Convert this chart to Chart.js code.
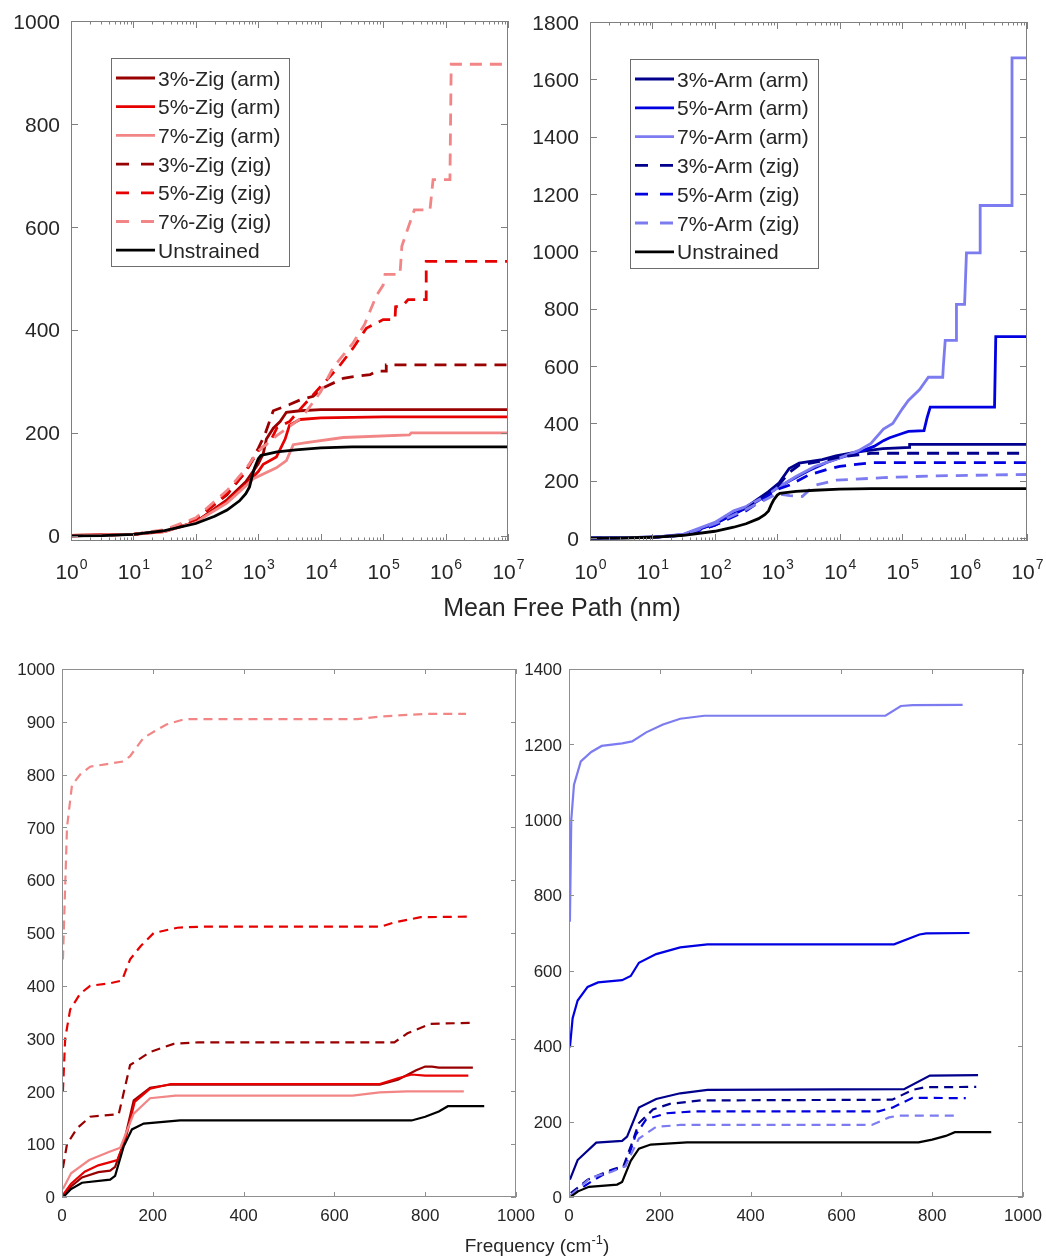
<!DOCTYPE html>
<html>
<head>
<meta charset="utf-8">
<script src="https://cdn.jsdelivr.net/npm/chart.js@4.4.1/dist/chart.umd.min.js"></script>
<style>
    body { margin: 0; background: #fff; width: 1046px; height: 1257px; position: relative; overflow: hidden; }
    canvas { position: absolute; }
    .axis-title {
        position: absolute; text-align: center; color: #262626; white-space: nowrap;
        font-family: "Liberation Sans", Arial, Helvetica, sans-serif;
    }
    .axis-title sup { font-size: 0.68em; vertical-align: 0.6em; line-height: 0; }
</style>
</head>
<body>
<canvas id="mfpZig"></canvas>
<canvas id="mfpArm"></canvas>
<canvas id="freqZig"></canvas>
<canvas id="freqArm"></canvas>
<div class="axis-title" style="left:362px; top:593px; width:400px; font-size:25px;">Mean Free Path (nm)</div>
<div class="axis-title" style="left:337px; top:1235px; width:400px; font-size:19px;">Frequency (cm<sup>-1</sup>)</div>

<script>
// ---- Accumulated value vs mean free path, x in nm: [mfp, value] ----
const mfpUnstrained = [[1, 0], [3.16, 0.5], [10, 3], [31.6, 10], [100, 24], [200, 38], [316, 50], [501, 68], [631, 82], [724, 95], [794, 115], [870, 132], [1000, 150], [1100, 156], [1259, 158], [2000, 163], [3981, 167], [10000, 171], [31620, 173], [1e7, 173]];

const mfpZig3Arm = [[1, 1], [10, 3], [31.6, 9], [100, 27], [316, 70], [631, 105], [1000, 140], [1202, 160], [1349, 188], [1738, 209], [2239, 222], [2818, 240], [4677, 243], [10000, 245], [1e7, 245]];
const mfpZig5Arm = [[1, 1], [10, 3], [31.6, 8], [100, 27], [316, 68], [631, 100], [1000, 125], [1202, 139], [1950, 153], [2692, 188], [3162, 215], [4677, 226], [10000, 229], [1e5, 231], [1e7, 231]];
const mfpZig7Arm = [[1, 1], [10, 3], [31.6, 8], [100, 27], [316, 64], [631, 97], [832, 111], [1950, 132], [2818, 146], [3631, 177], [5888, 181], [22900, 191], [263000, 196], [281800, 200], [1e7, 200]];
const mfpZig3Zig = [[1, 0], [10, 3], [31.6, 10], [100, 32], [316, 80], [631, 125], [1000, 170], [1259, 195], [1738, 243], [3162, 255], [4677, 264], [7586, 271], [10000, 285], [22900, 306], [31620, 309], [61660, 313], [79430, 320], [112200, 320], [112200, 332], [1e7, 332]];
const mfpZig5Zig = [[1, 0], [10, 3], [31.6, 10], [100, 32], [316, 82], [631, 125], [1000, 165], [1585, 185], [1995, 210], [3162, 222], [5012, 250], [10000, 290], [19950, 330], [33110, 365], [53700, 403], [1e5, 420], [154900, 420], [158500, 445], [208900, 448], [251200, 459], [489800, 459], [489800, 533], [1e7, 533]];
const mfpZig7Zig = [[1, 0], [10, 3], [31.6, 12], [100, 35], [316, 88], [631, 130], [1000, 165], [1995, 195], [5012, 230], [10000, 280], [15850, 327], [33110, 375], [50120, 410], [77620, 466], [1e5, 487], [107200, 508], [186200, 508], [199500, 563], [316200, 633], [562300, 633], [631000, 692], [1175000, 692], [1230000, 916], [1e7, 916]];

const mfpArm3Arm = [[1, 0], [10, 3], [31.6, 12], [100, 50], [309, 106], [724, 162], [1072, 193], [1549, 243], [2239, 262], [5248, 274], [8710, 287], [18200, 300], [48980, 312], [131800, 316], [131800, 327], [1e7, 327]];
const mfpArm5Arm = [[1, 0], [10, 3], [31.6, 12], [100, 50], [316, 105], [631, 145], [1000, 175], [1585, 200], [3162, 235], [6310, 265], [10000, 280], [19950, 300], [35480, 320], [50120, 340], [63100, 350], [1e5, 365], [125900, 372], [223900, 375], [251200, 420], [281800, 457], [3020000, 457], [3162000, 703], [1e7, 703]];
const mfpArm7Arm = [[1, 0], [10, 3], [31.6, 14], [100, 55], [200, 95], [316, 110], [631, 145], [1000, 175], [1995, 215], [3981, 250], [10000, 280], [19950, 305], [31620, 330], [50120, 380], [70790, 400], [1e5, 450], [125900, 480], [190500, 518], [263000, 561], [446700, 561], [457000, 600], [489800, 690], [741300, 690], [741300, 815], [1e6, 815], [1072000, 995], [1778000, 995], [1778000, 1160], [5754000, 1160], [5754000, 1675], [1e7, 1675]];
const mfpArm3Zig = [[1, 0], [10, 3], [31.6, 10], [100, 45], [316, 100], [1000, 180], [1585, 230], [2239, 255], [5012, 268], [10000, 283], [19950, 290], [31620, 296], [1e7, 296]];
const mfpArm5Zig = [[1, 0], [10, 3], [31.6, 10], [100, 45], [316, 95], [1000, 170], [1585, 185], [3162, 220], [6310, 240], [10000, 250], [19950, 258], [31620, 263], [1e7, 263]];
const mfpArm7Zig = [[1, 0], [10, 3], [31.6, 12], [100, 50], [316, 100], [1000, 155], [1585, 148], [2512, 145], [3162, 165], [3802, 183], [8913, 202], [50120, 211], [316200, 217], [1e7, 222]];

// ---- Accumulated value vs frequency, x in cm^-1: [freq, value] ----
const freqUnstrained = [[4, 1], [20, 15], [44, 27], [106, 33], [117, 40], [136, 96], [154, 128], [180, 139], [260, 145], [770, 145], [800, 152], [830, 162], [850, 172], [930, 172]];

const freqZig3Arm = [[3, 3], [20, 20], [44, 37], [80, 47], [106, 50], [117, 57], [136, 102], [158, 183], [194, 207], [240, 213], [700, 213], [740, 222], [780, 240], [800, 247], [815, 247], [830, 245], [905, 245]];
const freqZig5Arm = [[3, 5], [20, 25], [50, 48], [80, 60], [106, 66], [122, 70], [140, 110], [160, 180], [194, 205], [240, 214], [700, 214], [740, 225], [770, 232], [800, 230], [895, 230]];
const freqZig7Arm = [[2, 15], [20, 45], [60, 70], [106, 86], [128, 93], [158, 158], [194, 187], [250, 192], [640, 192], [700, 198], [760, 200], [885, 200]];
const freqZig3Zig = [[2, 55], [11, 100], [33, 130], [62, 152], [125, 157], [150, 250], [195, 275], [246, 290], [300, 293], [732, 293], [761, 310], [812, 328], [908, 330]];
const freqZig5Zig = [[2, 200], [7, 300], [18, 355], [40, 385], [62, 400], [107, 405], [132, 410], [150, 450], [173, 475], [202, 500], [254, 510], [305, 512], [702, 512], [732, 520], [790, 530], [900, 531]];
const freqZig7Zig = [[2, 450], [11, 700], [22, 780], [40, 800], [62, 815], [99, 820], [136, 825], [150, 835], [180, 870], [230, 895], [270, 905], [650, 905], [700, 910], [800, 915], [890, 915]];

const freqArm3Arm = [[2, 46], [19, 98], [60, 144], [117, 149], [128, 160], [154, 237], [192, 260], [245, 275], [305, 284], [738, 286], [795, 322], [901, 323]];
const freqArm5Arm = [[2, 397], [8, 474], [19, 521], [41, 557], [64, 569], [117, 575], [136, 586], [154, 621], [192, 644], [245, 662], [305, 670], [716, 670], [772, 696], [787, 699], [882, 700]];
const freqArm7Arm = [[2, 730], [5, 1000], [11, 1093], [26, 1155], [49, 1180], [72, 1196], [117, 1203], [139, 1208], [170, 1232], [207, 1253], [245, 1268], [298, 1276], [697, 1276], [731, 1302], [757, 1304], [867, 1305]];
const freqArm3Zig = [[4, 10], [41, 46], [94, 72], [120, 82], [139, 144], [154, 196], [185, 232], [222, 247], [290, 256], [712, 258], [757, 284], [784, 291], [897, 292]];
const freqArm5Zig = [[4, 5], [49, 41], [87, 67], [124, 82], [147, 165], [170, 206], [215, 222], [275, 227], [682, 227], [712, 237], [757, 263], [874, 262]];
const freqArm7Zig = [[4, 5], [49, 52], [94, 67], [124, 82], [154, 155], [192, 186], [245, 191], [667, 191], [705, 211], [727, 216], [855, 216]];

// ---- Axes and legends ----
const mfpXTicks = [1, 10, 100, 1e3, 1e4, 1e5, 1e6, 1e7];
const mfpZigYTicks = [0, 200, 400, 600, 800, 1000];
const mfpArmYTicks = [0, 200, 400, 600, 800, 1000, 1200, 1400, 1600, 1800];
const freqXTicks = [0, 200, 400, 600, 800, 1000];
const freqZigYTicks = [0, 100, 200, 300, 400, 500, 600, 700, 800, 900, 1000];
const freqArmYTicks = [0, 200, 400, 600, 800, 1000, 1200, 1400];

const zigLabels = ['3%-Zig (arm)', '5%-Zig (arm)', '7%-Zig (arm)', '3%-Zig (zig)', '5%-Zig (zig)', '7%-Zig (zig)', 'Unstrained'];
const armLabels = ['3%-Arm (arm)', '5%-Arm (arm)', '7%-Arm (arm)', '3%-Arm (zig)', '5%-Arm (zig)', '7%-Arm (zig)', 'Unstrained'];

const zigColors = ['#990000', '#e60000', '#f28585', '#990000', '#e60000', '#f28585', '#000000'];
const armColors = ['#00008c', '#0000e0', '#7c7cf0', '#00008c', '#0000e0', '#7c7cf0', '#000000'];

const FONT = '"Liberation Sans", Arial, Helvetica, sans-serif';
const TEXT = '#262626';

// Draws the boxed axes with inward ticks, tick labels and an optional legend
const matlabAxes = {
    id: 'matlabAxes',
    afterDatasetsDraw(chart, args, o) {
        const { ctx, chartArea: a, scales: { x, y } } = chart;
        const ox = o.offset.left, oy = o.offset.top;
        ctx.save();

        ctx.strokeStyle = o.boxColor;
        ctx.lineWidth = 1;
        ctx.beginPath();
        const xTick = (v, len) => {
            const px = Math.round(x.getPixelForValue(v)) + 0.5;
            ctx.moveTo(px, a.bottom); ctx.lineTo(px, a.bottom - len);
            ctx.moveTo(px, a.top); ctx.lineTo(px, a.top + len);
        };
        o.xTicks.forEach(v => xTick(v, o.tickLen));
        if (o.logX) {
            for (let d = 0; d < 7; d++) {
                for (let m = 2; m <= 9; m++) xTick(m * Math.pow(10, d), o.tickLen / 2);
            }
        }
        o.yTicks.forEach(v => {
            const py = Math.round(y.getPixelForValue(v)) + 0.5;
            ctx.moveTo(a.left, py); ctx.lineTo(a.left + o.tickLen, py);
            ctx.moveTo(a.right, py); ctx.lineTo(a.right - o.tickLen, py);
        });
        ctx.stroke();
        ctx.strokeRect(a.left + 0.5, a.top + 0.5, a.width - 1, a.height - 1);

        // tick labels
        ctx.fillStyle = TEXT;
        ctx.textBaseline = 'alphabetic';
        o.yTicks.forEach(v => {
            ctx.font = `${o.fontSize}px ${FONT}`;
            ctx.textAlign = 'right';
            ctx.fillText(String(v), a.left - o.yGap, y.getPixelForValue(v) + o.fontSize * 0.36);
        });
        o.xTicks.forEach(v => {
            const px = x.getPixelForValue(v);
            const base = a.bottom + o.xBase;
            if (o.logX) {
                const exp = String(Math.round(Math.log10(v)));
                ctx.font = `${o.fontSize}px ${FONT}`;
                const w1 = ctx.measureText('10').width;
                ctx.font = `${o.expSize}px ${FONT}`;
                const w2 = ctx.measureText(exp).width;
                const start = px - (w1 + w2) / 2;
                ctx.textAlign = 'left';
                ctx.font = `${o.fontSize}px ${FONT}`;
                ctx.fillText('10', start, base);
                ctx.font = `${o.expSize}px ${FONT}`;
                ctx.fillText(exp, start + w1 + 1, base - o.expRaise);
            } else {
                ctx.font = `${o.fontSize}px ${FONT}`;
                ctx.textAlign = 'center';
                ctx.fillText(String(v), px, base);
            }
        });

        if (o.legend) {
            const L = o.legend;
            ctx.fillStyle = '#fff';
            ctx.fillRect(L.x - ox, L.y - oy, L.w, L.h);
            ctx.strokeStyle = '#6e6e6e';
            ctx.lineWidth = 1;
            ctx.strokeRect(L.x - ox + 0.5, L.y - oy + 0.5, L.w, L.h);
            chart.data.datasets.forEach((d, i) => {
                const cy = L.row0 + i * L.rowGap - oy;
                ctx.beginPath();
                ctx.setLineDash(d.borderDash.length ? [13, 12] : []);
                ctx.strokeStyle = d.borderColor;
                ctx.lineWidth = d.borderWidth;
                ctx.moveTo(L.lineX0 - ox, cy);
                ctx.lineTo(L.lineX1 - ox, cy);
                ctx.stroke();
                ctx.setLineDash([]);
                ctx.fillStyle = TEXT;
                ctx.font = `${L.fontSize}px ${FONT}`;
                ctx.textAlign = 'left';
                ctx.fillText(d.label, L.textX - ox, cy + L.fontSize * 0.36);
            });
        }
        ctx.restore();
    }
};

function buildDatasets(seriesList, labels, colors, width, dash) {
    return seriesList.map((pts, i) => ({
        label: labels[i],
        data: pts.map(([x, y]) => ({ x, y })),
        borderColor: colors[i],
        borderWidth: width,
        borderDash: (i >= 3 && i <= 5) ? dash : [],
        pointRadius: 0,
        fill: false,
        tension: 0,
        order: seriesList.length - i // last series (Unstrained) ends up on top
    }));
}

function makePanel(id, frame, plot, cfg) {
    const canvas = document.getElementById(id);
    canvas.width = frame.width;
    canvas.height = frame.height;
    canvas.style.left = frame.left + 'px';
    canvas.style.top = frame.top + 'px';
    const padding = {
        left: plot.l - frame.left,
        top: plot.t - frame.top,
        right: frame.left + frame.width - plot.r,
        bottom: frame.top + frame.height - plot.b
    };
    new Chart(canvas, {
        type: 'line',
        data: { datasets: cfg.datasets },
        options: {
            responsive: false,
            animation: false,
            events: [],
            layout: { padding },
            plugins: {
                legend: { display: false },
                tooltip: { enabled: false },
                matlabAxes: Object.assign({ offset: frame }, cfg.axes)
            },
            scales: {
                x: { type: cfg.logX ? 'logarithmic' : 'linear', min: cfg.xMin, max: cfg.xMax, display: false },
                y: { type: 'linear', min: cfg.yMin, max: cfg.yMax, display: false }
            }
        },
        plugins: [matlabAxes]
    });
}

const topAxes = { boxColor: '#7f7f7f', tickLen: 7, fontSize: 21, expSize: 14, expRaise: 10, xBase: 38, yGap: 11, logX: true, xTicks: mfpXTicks };
const bottomAxes = { boxColor: '#8f8f8f', tickLen: 5, fontSize: 17, xBase: 24, yGap: 7, logX: false, xTicks: freqXTicks };

makePanel('mfpZig', { left: 0, top: 0, width: 540, height: 600 }, { l: 71, t: 21, r: 508, b: 541 }, {
    datasets: buildDatasets([mfpZig3Arm, mfpZig5Arm, mfpZig7Arm, mfpZig3Zig, mfpZig5Zig, mfpZig7Zig, mfpUnstrained], zigLabels, zigColors, 2.8, [12, 8]),
    logX: true, xMin: 1, xMax: 1e7, yMin: -10, yMax: 1000,
    axes: Object.assign({}, topAxes, {
        yTicks: mfpZigYTicks,
        legend: { x: 111, y: 58, w: 178, h: 208, row0: 78, rowGap: 28.7, lineX0: 116, lineX1: 155, textX: 158, fontSize: 21 }
    })
});

makePanel('mfpArm', { left: 520, top: 0, width: 526, height: 600 }, { l: 590, t: 22, r: 1027, b: 541 }, {
    datasets: buildDatasets([mfpArm3Arm, mfpArm5Arm, mfpArm7Arm, mfpArm3Zig, mfpArm5Zig, mfpArm7Zig, mfpUnstrained], armLabels, armColors, 2.8, [12, 8]),
    logX: true, xMin: 1, xMax: 1e7, yMin: -10, yMax: 1800,
    axes: Object.assign({}, topAxes, {
        yTicks: mfpArmYTicks,
        legend: { x: 630, y: 59, w: 188, h: 209, row0: 79, rowGap: 28.8, lineX0: 635, lineX1: 674, textX: 677, fontSize: 21 }
    })
});

makePanel('freqZig', { left: 0, top: 640, width: 545, height: 600 }, { l: 62, t: 669, r: 516, b: 1197 }, {
    datasets: buildDatasets([freqZig3Arm, freqZig5Arm, freqZig7Arm, freqZig3Zig, freqZig5Zig, freqZig7Zig, freqUnstrained], zigLabels, zigColors, 2.2, [9, 6]),
    logX: false, xMin: 0, xMax: 1000, yMin: 0, yMax: 1000,
    axes: Object.assign({}, bottomAxes, { yTicks: freqZigYTicks })
});

makePanel('freqArm', { left: 515, top: 640, width: 531, height: 600 }, { l: 569, t: 669, r: 1023, b: 1197 }, {
    datasets: buildDatasets([freqArm3Arm, freqArm5Arm, freqArm7Arm, freqArm3Zig, freqArm5Zig, freqArm7Zig, freqUnstrained], armLabels, armColors, 2.2, [9, 6]),
    logX: false, xMin: 0, xMax: 1000, yMin: 0, yMax: 1400,
    axes: Object.assign({}, bottomAxes, { yTicks: freqArmYTicks })
});
</script>
</body>
</html>
